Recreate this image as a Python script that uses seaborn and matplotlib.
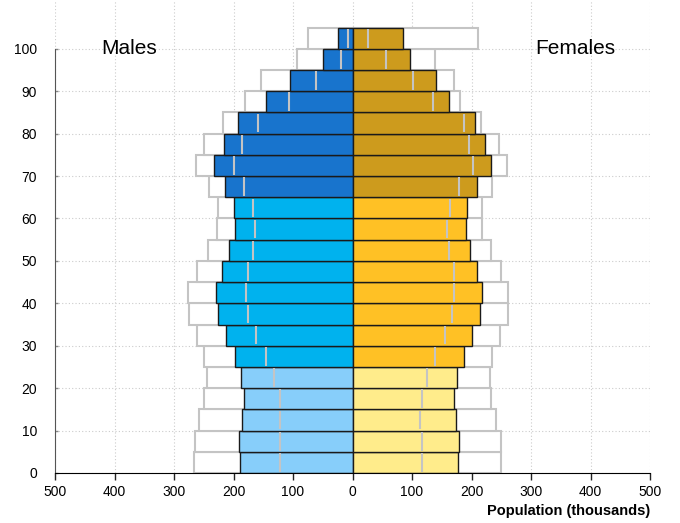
import pandas as pd
import matplotlib
matplotlib.use('Agg')
import matplotlib.pyplot as plt
import seaborn as sns
from matplotlib.ticker import FuncFormatter

# data (thousands), age groups of 5 years
ages = [0, 5, 10, 15, 20, 25, 30, 35, 40, 45, 50, 55, 60, 65, 70, 75, 80, 85, 90, 95, 100]
male = [189, 191, 186, 182, 187, 198, 213, 226, 229, 220, 207, 198, 199, 214, 232, 216, 192, 146, 105, 50, 24]
male_ref = [122, 122, 122, 122, 132, 146, 162, 175, 179, 176, 168, 164, 168, 183, 199, 186, 158, 106, 62, 20, 7]
male_outer = [267, 265, 258, 249, 244, 249, 261, 274, 276, 262, 243, 227, 226, 241, 263, 249, 217, 180, 153, 94, 74]
female = [178, 179, 174, 171, 176, 187, 201, 214, 217, 210, 198, 190, 193, 210, 232, 222, 206, 163, 140, 96, 85]
female_ref = [116, 116, 114, 117, 125, 138, 155, 168, 171, 171, 163, 158, 164, 179, 202, 195, 187, 136, 101, 56, 26]
female_outer = [249, 249, 242, 232, 231, 235, 248, 261, 262, 249, 232, 218, 218, 235, 259, 247, 216, 180, 170, 138, 211]

groups = ['young', 'adult', 'old']
male_colors = ['#87CEFA', '#00B2EE', '#1874CD']
female_colors = ['#FFEC8B', '#FFC125', '#CD9B1D']

df = pd.DataFrame({'age': ages, 'male': male, 'male_ref': male_ref, 'male_outer': male_outer,
                   'female': female, 'female_ref': female_ref, 'female_outer': female_outer})
df['mid'] = df['age'] + 2.5
df['group'] = pd.cut(df['age'], [-1, 22, 62, 200], labels=groups)
for c in ['male', 'male_ref', 'male_outer']:
    df[c] = -df[c]

sns.set_style('white')
plt.rcParams['font.family'] = ['Liberation Sans', 'DejaVu Sans']
plt.rcParams['text.color'] = 'black'
plt.rcParams['axes.labelcolor'] = 'black'

fig = plt.figure(figsize=(6.8, 5.23), dpi=100)
ax = fig.add_axes([55 / 680, 50 / 523, 595 / 680, 473 / 523])

# outer (grey outline) bars
for col in ['male_outer', 'female_outer']:
    sns.barplot(data=df, x=col, y='mid', orient='y', native_scale=True, width=1,
                color='white', edgecolor='#C4C4C4', linewidth=1.5, ax=ax, zorder=2)

# coloured bars
sns.barplot(data=df, x='male', y='mid', orient='y', native_scale=True, width=1,
            hue='group', palette=dict(zip(groups, male_colors)), saturation=1,
            edgecolor='#1a1a1a', linewidth=1, legend=False, ax=ax, zorder=3)
sns.barplot(data=df, x='female', y='mid', orient='y', native_scale=True, width=1,
            hue='group', palette=dict(zip(groups, female_colors)), saturation=1,
            edgecolor='#1a1a1a', linewidth=1, legend=False, ax=ax, zorder=3)

# reference marks inside bars
for col in ['male_ref', 'female_ref']:
    ax.vlines(df[col], df['age'] + 0.3, df['age'] + 4.7, color='#C4C4C4', linewidth=1.5, zorder=4)

ax.set_xlim(-500, 500)
ax.set_ylim(0, 111.5)
ax.set_xticks(range(-500, 501, 100))
ax.set_yticks(range(0, 101, 10))
ax.xaxis.set_major_formatter(FuncFormatter(lambda v, p: f'{abs(int(v))}'))

ax.grid(True, linestyle=(0, (1, 2)), color='#CCCCCC', linewidth=0.8)
ax.set_axisbelow(True)

for s in ['top', 'right']:
    ax.spines[s].set_visible(False)
ax.spines['left'].set_bounds(0, 100)
ax.spines['left'].set_color('#555555')
ax.spines['bottom'].set_bounds(-500, 500)
ax.spines['bottom'].set_color('black')
ax.spines['bottom'].set_zorder(5)

ax.tick_params(axis='x', direction='out', length=5, width=1, color='#222222',
               labelsize=10, labelcolor='black', pad=4, bottom=True)
ax.tick_params(axis='y', direction='in', length=2.5, width=1, color='#888888',
               labelsize=10, labelcolor='black', pad=13, left=True)

ax.set_ylabel('')
ax.set_xlabel('Population (thousands)', fontsize=10.5, fontweight='bold', loc='right', labelpad=3)

ax.text(-375, 100, 'Males', fontsize=15, ha='center', va='center')
ax.text(375, 100, 'Females', fontsize=15, ha='center', va='center')

plt.savefig('out.png', dpi=100)
